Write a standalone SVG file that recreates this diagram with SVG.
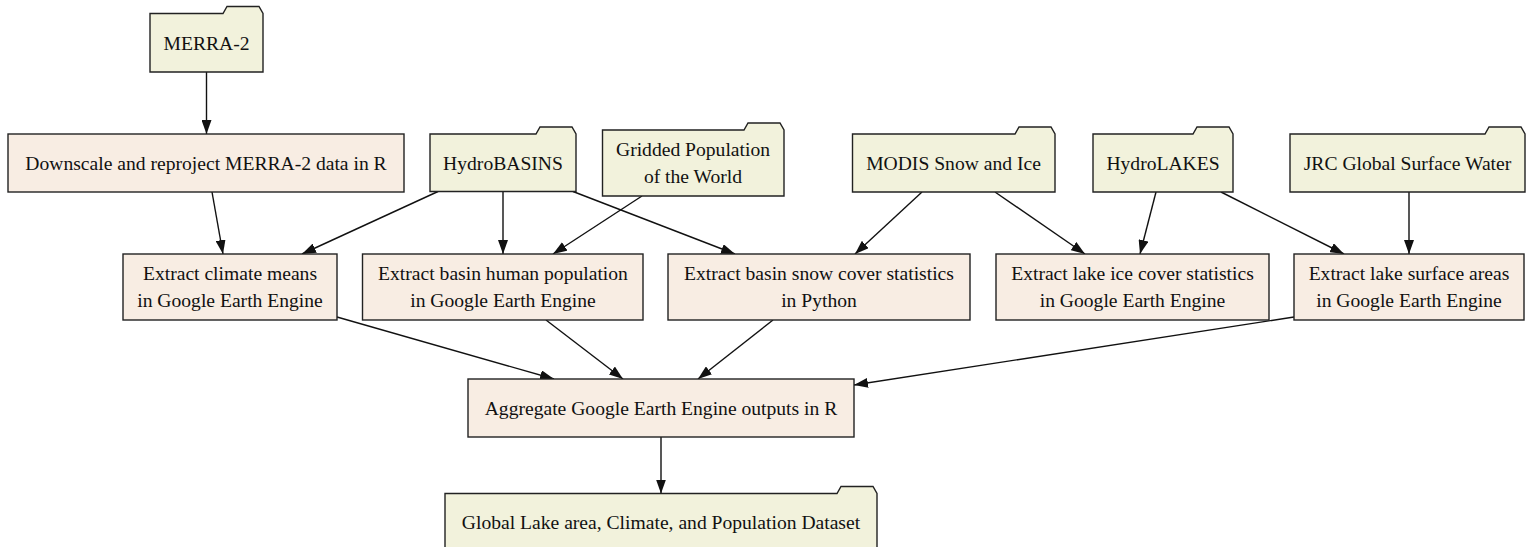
<svg xmlns="http://www.w3.org/2000/svg" width="1531" height="547" viewBox="0 0 1531 547">
<style>
.folder{fill:#f2f2dc;stroke:#222;stroke-width:1.4}
.box{fill:#f8ede3;stroke:#222;stroke-width:1.4}
text{font-family:"Liberation Serif","Times New Roman",serif;font-size:19.6px;fill:#111;text-anchor:middle}
.edge{stroke:#111;stroke-width:1.4;fill:none;marker-end:url(#arr)}
</style>
<defs>
<marker id="arr" markerUnits="userSpaceOnUse" markerWidth="14" markerHeight="10" refX="14" refY="5" orient="auto" viewBox="0 0 14 10"><path d="M0,0 L14,5 L0,10 z" fill="#111"/></marker>
</defs>
<rect width="1531" height="547" fill="#ffffff"/>
<g id="connectors">
<line class="edge" x1="206.5" y1="72" x2="206.5" y2="134"/>
<line class="edge" x1="212" y1="192" x2="223" y2="254"/>
<line class="edge" x1="438" y1="191.5" x2="302" y2="254"/>
<line class="edge" x1="503" y1="191.5" x2="503" y2="254"/>
<line class="edge" x1="573" y1="191.5" x2="735" y2="254"/>
<line class="edge" x1="642" y1="196" x2="553" y2="254"/>
<line class="edge" x1="922" y1="192" x2="855" y2="254"/>
<line class="edge" x1="995" y1="192" x2="1085" y2="254"/>
<line class="edge" x1="1156" y1="192" x2="1140" y2="254"/>
<line class="edge" x1="1221" y1="192" x2="1344" y2="254"/>
<line class="edge" x1="1409" y1="192" x2="1409" y2="254"/>
<line class="edge" x1="337" y1="317" x2="554" y2="379"/>
<line class="edge" x1="546" y1="320" x2="623" y2="379"/>
<line class="edge" x1="773" y1="320" x2="698" y2="379"/>
<line class="edge" x1="1294" y1="317" x2="854" y2="385"/>
<line class="edge" x1="661" y1="437" x2="661" y2="493.5"/>
</g>
<g id="merra2">
<path class="folder" d="M150,13.5 H223 L227,6.5 H259 L263,13.5 V72 H150 Z"/>
<text x="206.5" y="49.5">MERRA-2</text>
</g>
<g id="downscale">
<rect class="box" x="8" y="134" width="396" height="58"/>
<text x="206" y="169.5">Downscale and reproject MERRA-2 data in R</text>
</g>
<g id="hydrobasins">
<path class="folder" d="M430,134 H536 L540,127 H572 L576,134 V191.5 H430 Z"/>
<text x="503" y="169.5">HydroBASINS</text>
</g>
<g id="gridded">
<path class="folder" d="M602.5,130 H744 L748,123 H780 L784,130 V196 H602.5 Z"/>
<text x="693" y="156">Gridded Population</text>
<text x="693" y="183">of the World</text>
</g>
<g id="modis">
<path class="folder" d="M852.5,134 H1015 L1019,127 H1051 L1055,134 V192 H852.5 Z"/>
<text x="953.5" y="169.5">MODIS Snow and Ice</text>
</g>
<g id="hydrolakes">
<path class="folder" d="M1093,134 H1193 L1197,127 H1229 L1233,134 V192 H1093 Z"/>
<text x="1163" y="169.5">HydroLAKES</text>
</g>
<g id="jrc">
<path class="folder" d="M1290,134 H1485 L1489,127 H1521 L1525,134 V192 H1290 Z"/>
<text x="1407.5" y="169.5">JRC Global Surface Water</text>
</g>
<g id="climate">
<rect class="box" x="123" y="254" width="214" height="66"/>
<text x="230" y="280">Extract climate means</text>
<text x="230" y="307">in Google Earth Engine</text>
</g>
<g id="population">
<rect class="box" x="362.5" y="254" width="280.5" height="66"/>
<text x="503" y="280">Extract basin human population</text>
<text x="503" y="307">in Google Earth Engine</text>
</g>
<g id="snow">
<rect class="box" x="668" y="254" width="302" height="66"/>
<text x="819" y="280">Extract basin snow cover statistics</text>
<text x="819" y="307">in Python</text>
</g>
<g id="laketice">
<rect class="box" x="996" y="254" width="273" height="66"/>
<text x="1132.5" y="280">Extract lake ice cover statistics</text>
<text x="1132.5" y="307">in Google Earth Engine</text>
</g>
<g id="lakesurface">
<rect class="box" x="1294" y="254" width="230" height="66"/>
<text x="1409" y="280">Extract lake surface areas</text>
<text x="1409" y="307">in Google Earth Engine</text>
</g>
<g id="aggregate">
<rect class="box" x="468" y="379" width="386" height="58"/>
<text x="661" y="414.5">Aggregate Google Earth Engine outputs in R</text>
</g>
<g id="dataset">
<path class="folder" d="M445,493.5 H837 L841,486.5 H873 L877,493.5 V552 H445 Z"/>
<text x="661" y="529">Global Lake area, Climate, and Population Dataset</text>
</g>
</svg>
